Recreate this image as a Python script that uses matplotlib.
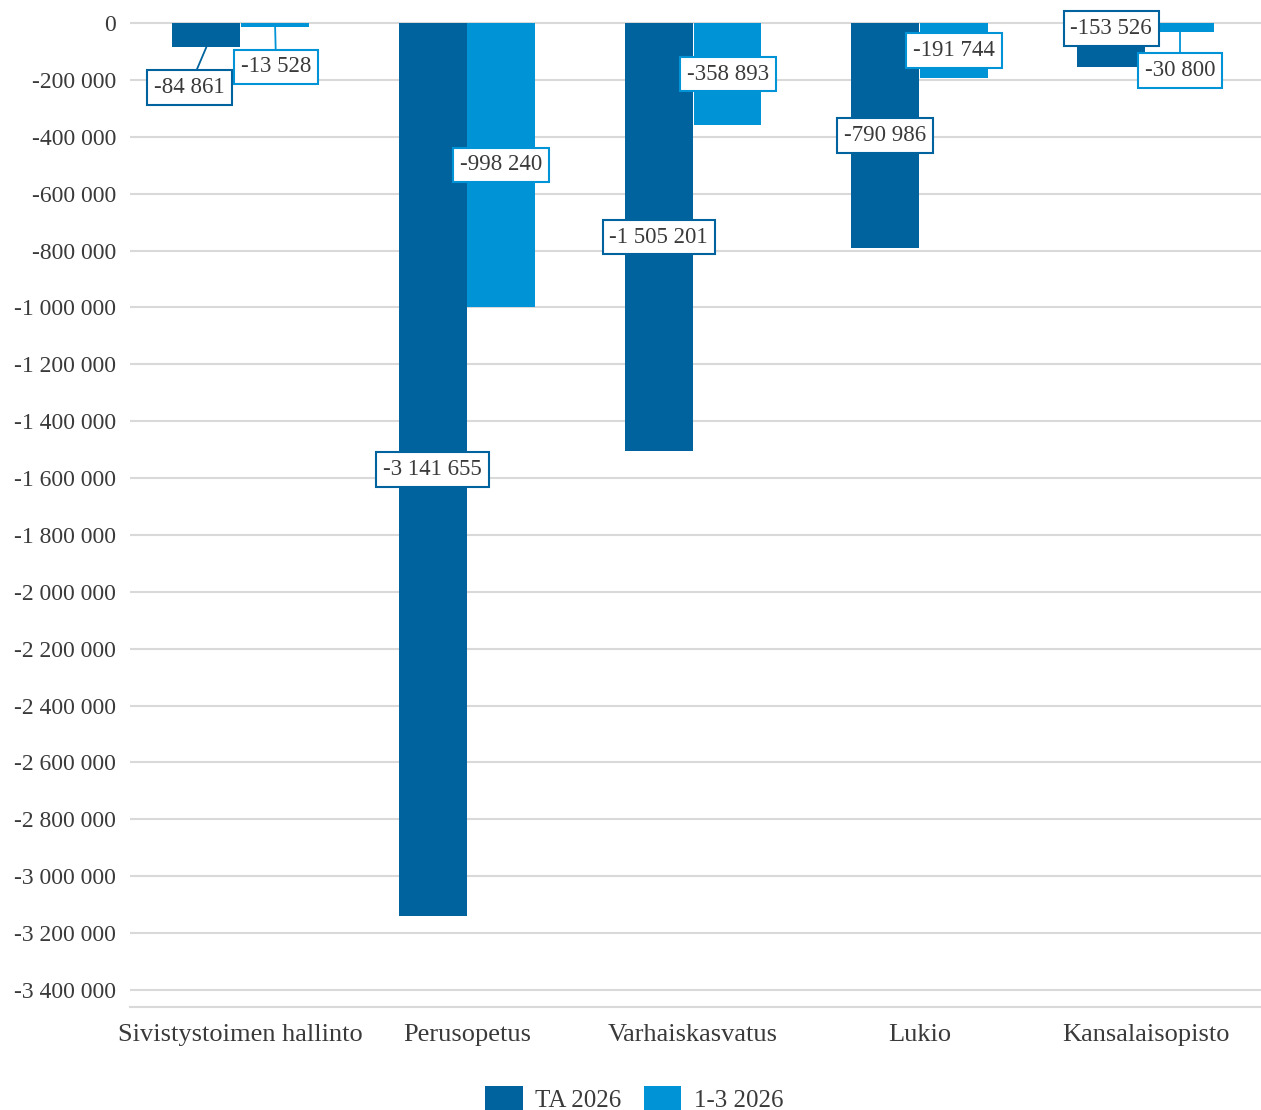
"""Sivistystoimi: TA 2026 vs 1-3 2026, grouped bar chart."""

import matplotlib
matplotlib.use("Agg")
import matplotlib.pyplot as plt
from matplotlib.ticker import FuncFormatter, MultipleLocator
import numpy as np

categories = ["Sivistystoimen hallinto", "Perusopetus", "Varhaiskasvatus",
              "Lukio", "Kansalaisopisto"]
series_names = ["TA 2026", "1-3 2026"]
ta_2026 = [-84861, -3141655, -1505201, -790986, -153526]
q1_2026 = [-13528, -998240, -358893, -191744, -30800]

dark = "#00639E"
light = "#0094D6"
text_col = "#3a3a3a"
grid_col = "#d9d9d9"

plt.rcParams["font.family"] = ["Liberation Serif", "DejaVu Serif"]

fig = plt.figure(figsize=(12.61, 11.10), dpi=100)
ax = fig.add_axes([0.103, 0.0928, 0.897, 0.8967])

x = np.arange(len(categories))
w = 0.30
off = 0.152
ax.bar(x - off, ta_2026, w, color=dark, zorder=2, label=series_names[0])
ax.bar(x + off, q1_2026, w, color=light, zorder=2, label=series_names[1])

ax.set_xlim(-0.49, len(categories) - 0.49)
ax.set_ylim(-3460000, 40000)
ax.yaxis.set_major_locator(MultipleLocator(200000))
ax.yaxis.set_major_formatter(
    FuncFormatter(lambda v, p: f"{v:,.0f}".replace(",", " ")))
ax.grid(axis="y", color=grid_col, linewidth=1.5, zorder=0)
ax.set_xticks(x)
ax.set_xticklabels(categories)
ax.tick_params(axis="y", length=0, labelsize=17, colors=text_col, pad=10)
ax.tick_params(axis="x", length=0, labelsize=19, colors=text_col, pad=12)
for s in ["top", "right", "left"]:
    ax.spines[s].set_visible(False)
ax.spines["bottom"].set_color(grid_col)
ax.spines["bottom"].set_linewidth(1.5)

# label placement: (series, index) -> (anchor, dx, dy) in pixels
# anchor "mid" = middle of bar, "end" = end of bar (with leader line)
moved = {
    (0, 0): ("end", -17, -40),
    (1, 0): ("end", 1, -40),
    (0, 4): ("mid", 0, 16),
    (1, 4): ("end", 0, -39),
}

for si, (vals, col, dx0) in enumerate([(ta_2026, dark, -off), (q1_2026, light, off)]):
    for i, v in enumerate(vals):
        anchor, dx, dy = moved.get((si, i), ("mid", 0, 0))
        yy = v / 2 if anchor == "mid" else v
        arrow = None
        if anchor == "end":
            arrow = dict(arrowstyle="-", color=col, lw=1.3,
                         shrinkA=0, shrinkB=0)
        ax.annotate(f"{v:,.0f}".replace(",", " "), xy=(i + dx0, yy),
                    xytext=(dx, dy), textcoords="offset pixels",
                    ha="center", va="center", fontsize=16.5, color=text_col,
                    bbox=dict(boxstyle="square,pad=0.3", fc="white",
                              ec=col, lw=1.5),
                    arrowprops=arrow, zorder=5)

fig.legend(loc="lower center", bbox_to_anchor=(0.503, -0.022), ncol=2,
           frameon=False, fontsize=18, handlelength=1.5, handleheight=1.15,
           columnspacing=0.9, handletextpad=0.5, labelcolor=text_col)

fig.savefig("out.png", dpi=100)
